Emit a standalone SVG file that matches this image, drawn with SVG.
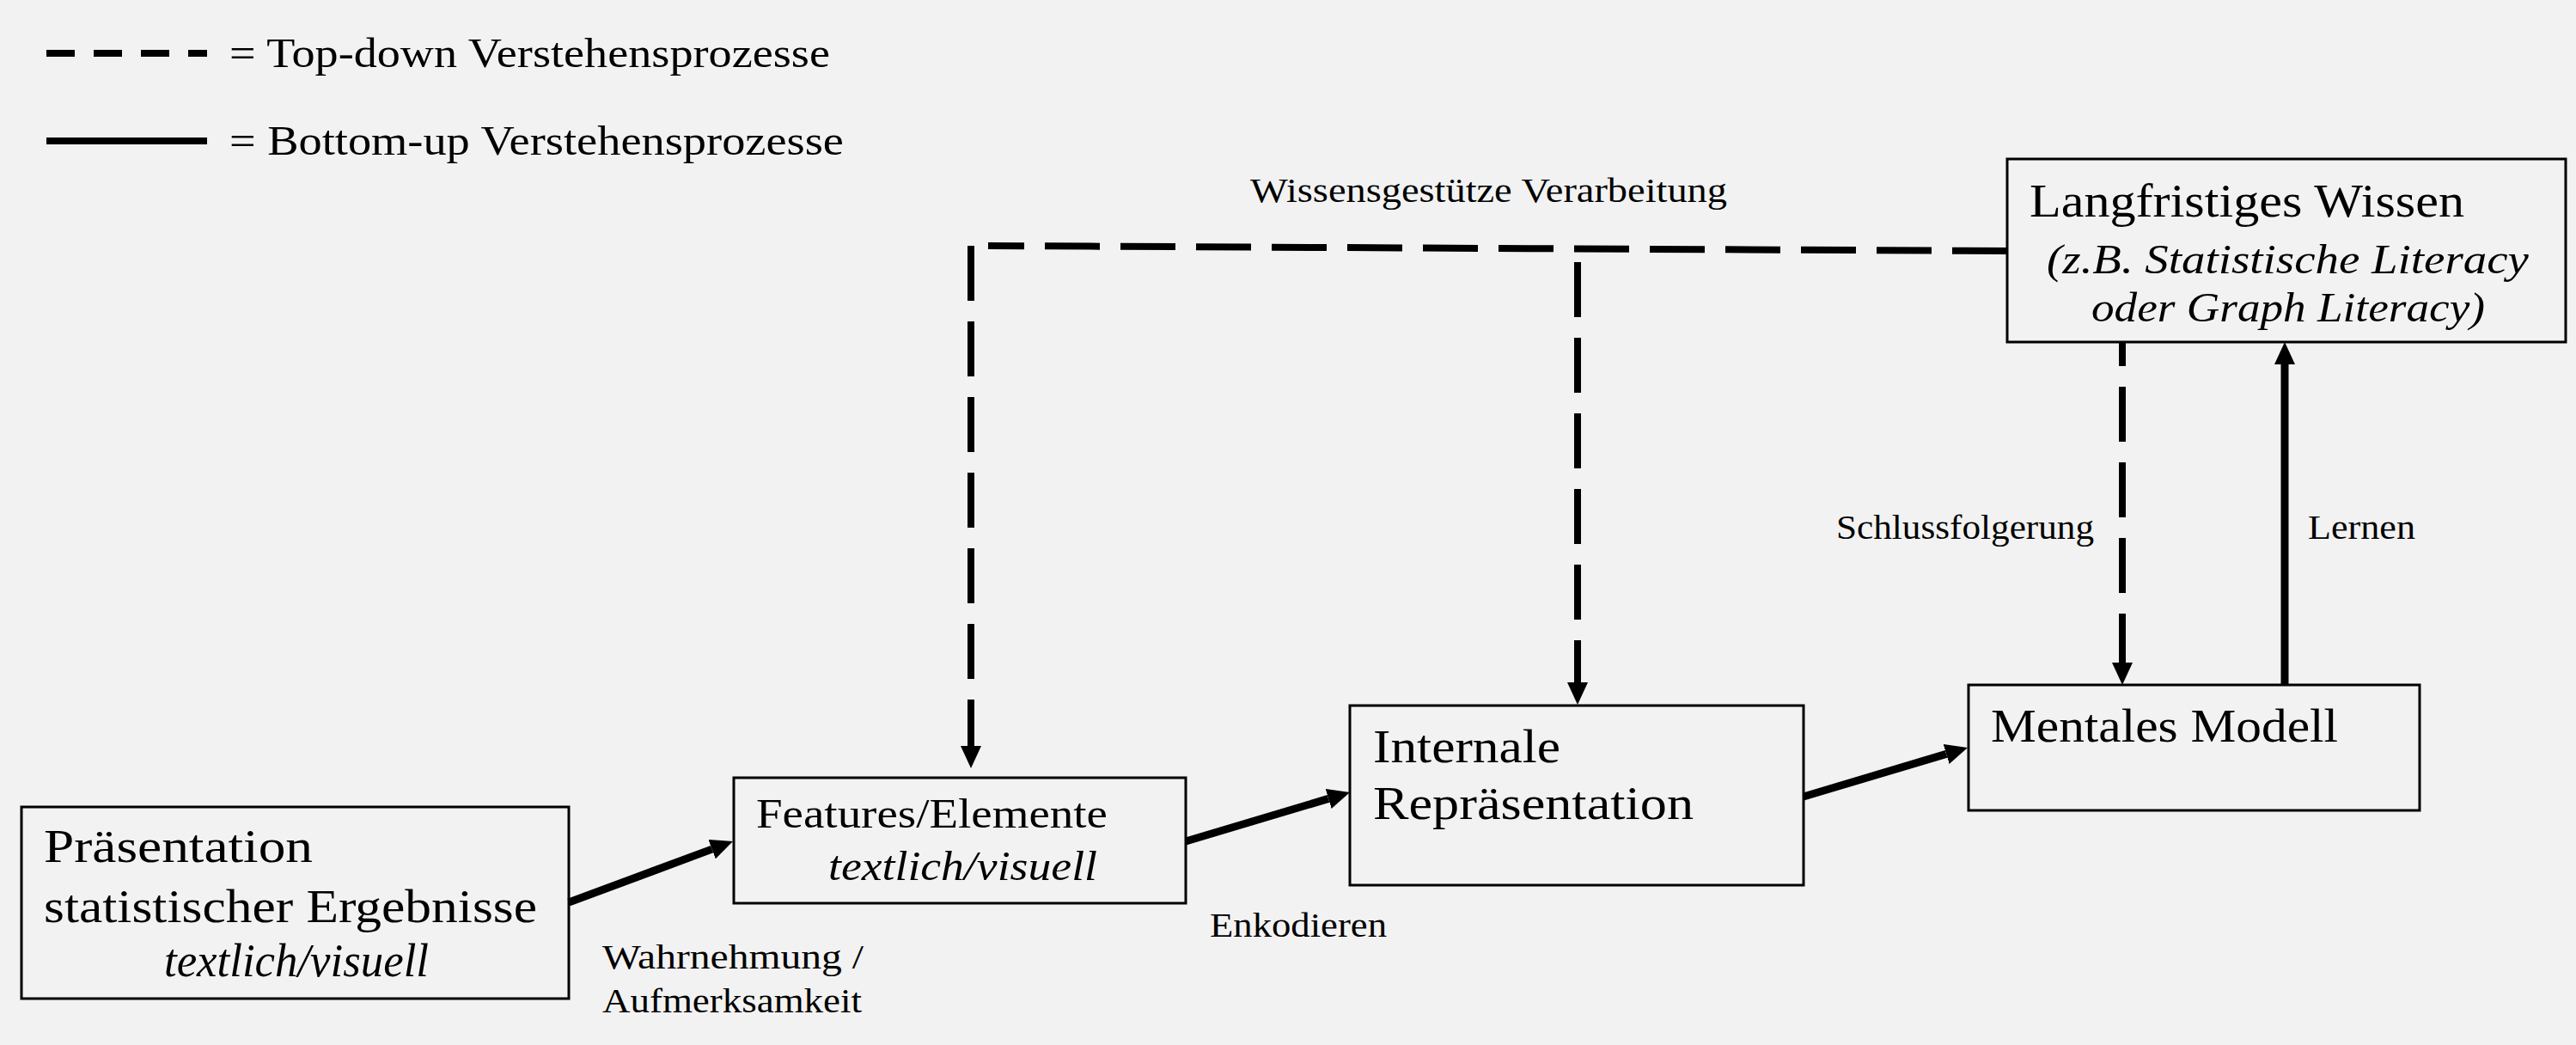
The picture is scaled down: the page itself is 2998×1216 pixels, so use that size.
<svg xmlns="http://www.w3.org/2000/svg" width="2998" height="1216" viewBox="0 0 2998 1216">
<style>
text{font-family:"Liberation Serif","Times New Roman",serif;fill:#000}
.lg{font-size:54px}
.md{font-size:49px}
.sm{font-size:41px}
.it{font-style:italic}
.box{fill:none;stroke:#000;stroke-width:3}
.dash{fill:none;stroke:#000;stroke-width:8;stroke-dasharray:64 24}
.solid{fill:none;stroke:#000;stroke-width:9}
</style>
<defs>
<marker id="ah" markerUnits="userSpaceOnUse" markerWidth="26" markerHeight="24" viewBox="0 0 26 24" refX="0" refY="12" orient="auto">
<path d="M0,0 L26,12 L0,24 z" fill="#000"/>
</marker>
</defs>
<rect x="0" y="0" width="2998" height="1216" fill="#f2f2f2"/>

<g id="legend">
<line x1="54" y1="62" x2="241" y2="62" stroke="#000" stroke-width="8" stroke-dasharray="33 22"/>
<text class="md" x="267" y="78" textLength="699" lengthAdjust="spacingAndGlyphs">= Top-down Verstehensprozesse</text>
<line x1="54" y1="164" x2="241" y2="164" stroke="#000" stroke-width="8"/>
<text class="md" x="267" y="180" textLength="715" lengthAdjust="spacingAndGlyphs">= Bottom-up Verstehensprozesse</text>
</g>

<g id="connectors">
<path class="dash" d="M2336,292 L1150,286"/>
<path class="dash" d="M1130,286 L1130,868" marker-end="url(#ah)"/>
<path class="dash" d="M1836,305 L1836,794" marker-end="url(#ah)"/>
<path class="dash" d="M2470,398 L2470,771" stroke-dashoffset="36" marker-end="url(#ah)"/>
<path class="solid" d="M2659,797 L2659,424" marker-end="url(#ah)"/>
<path class="solid" d="M662,1050 L828.6,988.1" marker-end="url(#ah)"/>
<path class="solid" d="M1380,979 L1546.1,929.4" marker-end="url(#ah)"/>
<path class="solid" d="M2099,927 L2265.1,877.4" marker-end="url(#ah)"/>
<text class="sm" x="1455" y="235" textLength="555" lengthAdjust="spacingAndGlyphs">Wissensgestütze Verarbeitung</text>
<text class="sm" x="2137" y="627" textLength="300" lengthAdjust="spacingAndGlyphs">Schlussfolgerung</text>
<text class="sm" x="2686" y="627" textLength="125" lengthAdjust="spacingAndGlyphs">Lernen</text>
<text class="sm" x="701" y="1127" textLength="304" lengthAdjust="spacingAndGlyphs">Wahrnehmung /</text>
<text class="sm" x="701" y="1178" textLength="302" lengthAdjust="spacingAndGlyphs">Aufmerksamkeit</text>
<text class="sm" x="1408" y="1090" textLength="206" lengthAdjust="spacingAndGlyphs">Enkodieren</text>
</g>

<g id="node-praesentation">
<rect class="box" x="25" y="939" width="637" height="223"/>
<text class="lg" x="51" y="1003" textLength="313" lengthAdjust="spacingAndGlyphs">Präsentation</text>
<text class="lg" x="51" y="1073" textLength="574" lengthAdjust="spacingAndGlyphs">statistischer Ergebnisse</text>
<text class="lg it" x="191" y="1136" textLength="308" lengthAdjust="spacingAndGlyphs">textlich/visuell</text>
</g>

<g id="node-features">
<rect class="box" x="854" y="905" width="526" height="146"/>
<text class="md" x="880" y="963" textLength="409" lengthAdjust="spacingAndGlyphs">Features/Elemente</text>
<text class="md it" x="964" y="1024" textLength="313" lengthAdjust="spacingAndGlyphs">textlich/visuell</text>
</g>

<g id="node-internale">
<rect class="box" x="1571" y="821" width="528" height="209"/>
<text class="lg" x="1598" y="887" textLength="218" lengthAdjust="spacingAndGlyphs">Internale</text>
<text class="lg" x="1598" y="953" textLength="373" lengthAdjust="spacingAndGlyphs">Repräsentation</text>
</g>

<g id="node-mentales">
<rect class="box" x="2291" y="797" width="525" height="146"/>
<text class="lg" x="2317" y="863" textLength="404" lengthAdjust="spacingAndGlyphs">Mentales Modell</text>
</g>

<g id="node-wissen">
<rect class="box" x="2336" y="185" width="650" height="213"/>
<text class="lg" x="2362" y="252" textLength="506" lengthAdjust="spacingAndGlyphs">Langfristiges Wissen</text>
<text class="lg it" x="2382" y="318" textLength="561" lengthAdjust="spacingAndGlyphs" style="font-size:49px">(z.B. Statistische Literacy</text>
<text class="lg it" x="2434" y="374" textLength="458" lengthAdjust="spacingAndGlyphs" style="font-size:49px">oder Graph Literacy)</text>
</g>
</svg>
